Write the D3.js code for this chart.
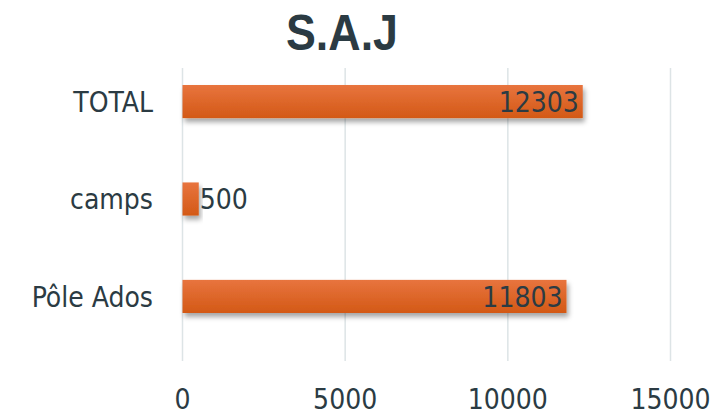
<!DOCTYPE html>
<html>
<head>
<meta charset="utf-8">
<script src="https://cdn.jsdelivr.net/npm/d3@7"></script>
<style>
  body { margin: 0; background: #fff; }
  text { font-family: "DejaVu Sans Condensed", "DejaVu Sans", sans-serif; fill: #2b3b43; }
</style>
</head>
<body>
<div id="chart"></div>
<script>
// Data
const categories = ["TOTAL", "camps", "Pôle Ados"];
const values = [12303, 500, 11803];
const ticks = [0, 5000, 10000, 15000];

const W = 714, H = 416;
const plot = { left: 182.5, right: 670.5, top: 68, bottom: 361 };

const svg = d3.select("#chart").append("svg")
    .attr("width", W)
    .attr("height", H);

const defs = svg.append("defs");
const grad = defs.append("linearGradient")
    .attr("id", "barGrad")
    .attr("x1", 0).attr("y1", 0).attr("x2", 0).attr("y2", 1);
grad.append("stop").attr("offset", "0%").attr("stop-color", "#e8743e");
grad.append("stop").attr("offset", "100%").attr("stop-color", "#d35916");

const shadow = defs.append("filter")
    .attr("id", "shadow")
    .attr("x", "-10%").attr("y", "-30%")
    .attr("width", "130%").attr("height", "180%");
shadow.append("feDropShadow")
    .attr("dx", 2).attr("dy", 4)
    .attr("stdDeviation", 2.5)
    .attr("flood-color", "#000")
    .attr("flood-opacity", 0.35);

const x = d3.scaleLinear()
    .domain([0, 15000])
    .range([plot.left, plot.right]);

// bands: first bar starts at 85, last ends at 313
const y = d3.scaleBand()
    .domain(categories)
    .range([85, 313])
    .paddingInner(0.66)
    .paddingOuter(0);

// gridlines
svg.append("g")
    .selectAll("line")
    .data(ticks)
    .enter()
    .append("line")
    .attr("x1", d => x(d))
    .attr("x2", d => x(d))
    .attr("y1", plot.top)
    .attr("y2", plot.bottom)
    .attr("stroke", "#dde4e6")
    .attr("stroke-width", 1.5);

// title
svg.append("text")
    .attr("x", 342)
    .attr("y", 50)
    .attr("text-anchor", "middle")
    .attr("textLength", 112)
    .attr("lengthAdjust", "spacingAndGlyphs")
    .style("font-family", "'Liberation Sans', Arial, sans-serif")
    .style("font-weight", "bold")
    .style("font-size", "50px")
    .text("S.A.J");

// bars
svg.append("g")
    .selectAll("rect")
    .data(categories)
    .enter()
    .append("rect")
    .attr("x", x(0))
    .attr("y", d => y(d))
    .attr("width", (d, i) => x(values[i]) - x(0))
    .attr("height", y.bandwidth())
    .attr("fill", "url(#barGrad)")
    .attr("filter", "url(#shadow)");

// value labels
svg.append("g")
    .selectAll("text")
    .data(categories)
    .enter()
    .append("text")
    .attr("x", (d, i) => values[i] > 2000 ? x(values[i]) - 4 : x(values[i]) + 1)
    .attr("y", d => y(d) + y.bandwidth() / 2)
    .attr("dy", "0.36em")
    .attr("text-anchor", (d, i) => values[i] > 2000 ? "end" : "start")
    .style("font-size", "28px")
    .text((d, i) => values[i]);

// category labels
svg.append("g")
    .selectAll("text")
    .data(categories)
    .enter()
    .append("text")
    .attr("x", 153)
    .attr("y", d => y(d) + y.bandwidth() / 2)
    .attr("dy", "0.36em")
    .attr("text-anchor", "end")
    .style("font-size", "28px")
    .text(d => d);

// x tick labels
svg.append("g")
    .selectAll("text")
    .data(ticks)
    .enter()
    .append("text")
    .attr("x", d => x(d))
    .attr("y", 409)
    .attr("text-anchor", "middle")
    .style("font-size", "28px")
    .text(d => d);
</script>
</body>
</html>
